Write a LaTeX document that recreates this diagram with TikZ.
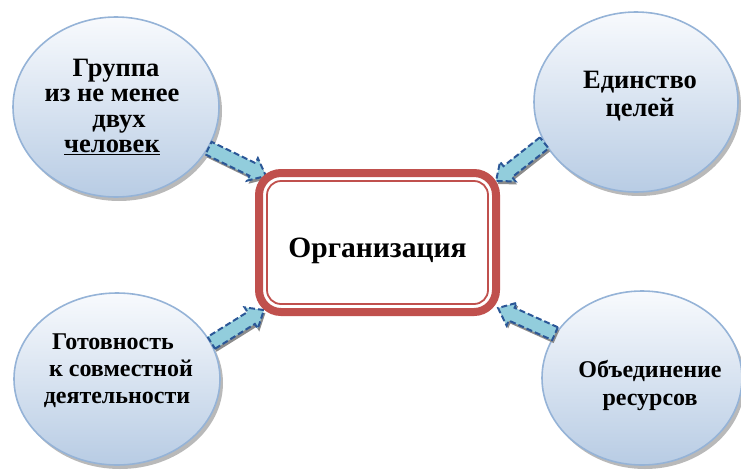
\documentclass[tikz,border=0pt]{standalone}
\usepackage{fontspec}
\setmainfont{Liberation Serif}
\usetikzlibrary{shapes.geometric,shadows,calc}

\definecolor{bubbleline}{RGB}{149,179,215}
\definecolor{bubbletop}{RGB}{248,250,253}
\definecolor{bubblemid}{RGB}{226,234,245}
\definecolor{bubblebottom}{RGB}{184,204,228}
\definecolor{framered}{RGB}{192,80,77}
\definecolor{arrowfill}{RGB}{146,205,220}
\definecolor{arrowline}{RGB}{43,87,151}

\newcommand\blockarrow[2]{%
  \draw[arrowbody] let \p1=($(#2)-(#1)$), \n1={atan2(\y1,\x1)}, \n2={veclen(\x1,\y1)} in
    [shift={(#1)}, rotate=\n1]
    (0pt,-7pt) -- ({(\n2-15)*1pt},-7pt) -- ({(\n2-15)*1pt},-12.5pt) -- ({\n2*1pt},0pt)
    -- ({(\n2-15)*1pt},12.5pt) -- ({(\n2-15)*1pt},7pt) -- (0pt,7pt) -- cycle;}

\begin{document}
\begin{tikzpicture}[x=1pt, y=-1pt,
  bubble/.style={ellipse, draw=bubbleline, line width=1.6pt,
    top color=bubbletop, middle color=bubblemid, bottom color=bubblebottom,
    drop shadow={shadow xshift=3pt, shadow yshift=-4pt, fill=black!50, opacity=0.55}},
  caption/.style={align=center, font=\fontsize{26.5}{25.5}\selectfont\bfseries},
  smallcaption/.style={align=center, font=\fontsize{24}{27}\selectfont\bfseries},
  arrowbody/.style={fill=arrowfill, draw=arrowline, line width=2pt,
    dash pattern=on 6pt off 3pt,
    drop shadow={shadow xshift=1.5pt, shadow yshift=-3pt, fill=black!45, opacity=1}}]
\useasboundingbox (0,0) rectangle (741,469);

\node[bubble, minimum width=206pt, minimum height=180pt] (gruppa) at (116,107) {};
\node[bubble, minimum width=204pt, minimum height=180pt] (edinstvo) at (636,102) {};
\node[bubble, minimum width=206pt, minimum height=172pt] (gotovnost) at (117,379) {};
\node[bubble, minimum width=200pt, minimum height=174pt] (resursy) at (642,378) {};

\node[caption] at (112,107) {\hspace*{8pt}Группа\\из не менее\\\hspace*{14pt}двух\\\underline{человек}};
\node[caption, font=\fontsize{26.5}{28}\selectfont\bfseries] at (640,96) {Единство\\целей};
\node[smallcaption] at (117,371) {Готовность\hspace*{8pt}\\\hspace*{8pt}к совместной\\деятельности};
\node[smallcaption, font=\fontsize{24}{28}\selectfont\bfseries] at (650,385) {Объединение\\ресурсов};

\coordinate (gruppa-in) at (266,176);
\coordinate (edinstvo-in) at (496,181);
\coordinate (gotovnost-in) at (264,310);
\coordinate (resursy-in) at (498,308);

\blockarrow{gruppa.-24}{gruppa-in}
\blockarrow{edinstvo.204}{edinstvo-in}
\blockarrow{gotovnost.21}{gotovnost-in}
\blockarrow{resursy.153}{resursy-in}

\node[draw=framered, line width=8pt, rounded corners=22pt,
  minimum width=237pt, minimum height=139pt, text height=29pt, text depth=0pt,
  font=\fontsize{29.5}{31}\selectfont\bfseries] (org) at (377.5,242.5) {Организация};
\draw[framered, line width=1.8pt, rounded corners=14pt]
  ([shift={(12pt,-12pt)}]org.north west) rectangle ([shift={(-12pt,12pt)}]org.south east);
\end{tikzpicture}
\end{document}
